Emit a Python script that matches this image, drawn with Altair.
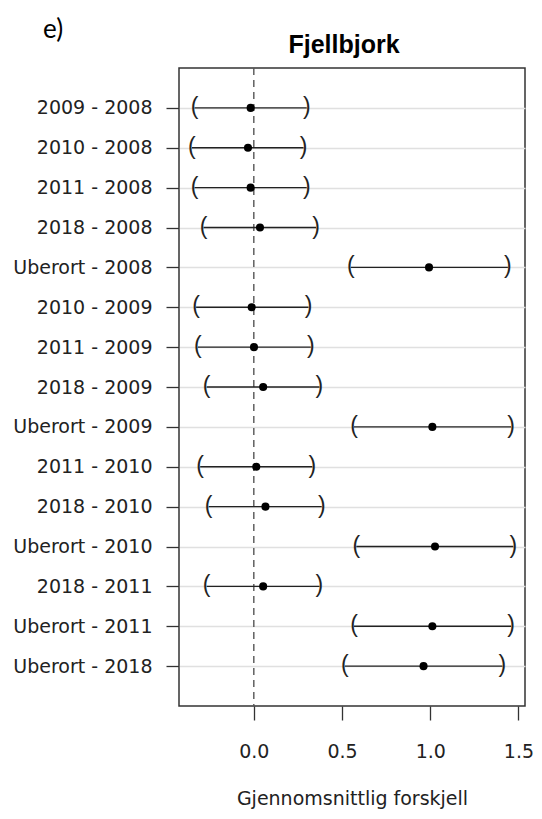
import altair as alt
import pandas as pd

comparisons = [
    "2009 - 2008", "2010 - 2008", "2011 - 2008", "2018 - 2008", "Uberort - 2008",
    "2010 - 2009", "2011 - 2009", "2018 - 2009", "Uberort - 2009",
    "2011 - 2010", "2018 - 2010", "Uberort - 2010",
    "2018 - 2011", "Uberort - 2011", "Uberort - 2018",
]
estimate = [-0.018, -0.033, -0.018, 0.035, 0.993, -0.012, 0.001, 0.053, 1.012,
            0.014, 0.066, 1.027, 0.053, 1.012, 0.962]
lower = [-0.336, -0.351, -0.336, -0.285, 0.550, -0.327, -0.317, -0.267, 0.568,
         -0.304, -0.256, 0.581, -0.267, 0.568, 0.516]
upper = [0.300, 0.282, 0.300, 0.353, 1.440, 0.310, 0.323, 0.372, 1.458,
         0.332, 0.385, 1.471, 0.372, 1.458, 1.409]
x_ticks = [0.0, 0.5, 1.0, 1.5]
reference = [0.0]
panel_text = ["e)"]
title_text = ["Fjellbjork"]

df = pd.DataFrame({"comparison": comparisons, "estimate": estimate,
                   "lower": lower, "upper": upper})
ref_df = pd.DataFrame({"ref": reference})

FONT = "DejaVu Sans"
W, H = 346, 638
x_scale = alt.Scale(domain=[-0.424, 1.537], nice=False, zero=False)
x_axis = alt.Axis(values=x_ticks, format=".1f", tickSize=14, tickColor="#333",
                  tickWidth=1.3, labelPadding=22, labelFontSize=19, labelFont=FONT,
                  labelColor="#222", title="Gjennomsnittlig forskjell",
                  titleFont=FONT, titleFontSize=19, titleFontWeight="normal",
                  titleColor="#222", titlePadding=28, grid=False, domain=False)
y_enc = alt.Y("comparison:N", sort=comparisons,
              scale=alt.Scale(type="point", padding=1.1),
              axis=alt.Axis(title=None, tickSize=13, tickColor="#333", tickWidth=1.3,
                            labelPadding=14, labelFontSize=19, labelFont=FONT,
                            labelColor="#222", grid=True, gridColor="#e0e0e0",
                            gridWidth=1.5, domain=False))

base = alt.Chart(df)

zero_line = alt.Chart(ref_df).mark_rule(color="#555", strokeDash=[7, 5], strokeWidth=1.4).encode(
    x=alt.X("ref:Q", scale=x_scale, axis=x_axis)
)
bars = base.mark_rule(color="#222", strokeWidth=1.4).encode(
    x=alt.X("lower:Q", scale=x_scale, axis=x_axis), x2="upper:Q", y=y_enc
)
left_br = base.mark_text(text="(", fontSize=23, font="Liberation Sans", color="#222",
                         baseline="middle", dy=-1).encode(
    x=alt.X("lower:Q", scale=x_scale), y=y_enc
)
right_br = base.mark_text(text=")", fontSize=23, font="Liberation Sans", color="#222",
                          baseline="middle", dy=-1).encode(
    x=alt.X("upper:Q", scale=x_scale), y=y_enc
)
points = base.mark_circle(color="black", size=65, opacity=1).encode(
    x=alt.X("estimate:Q", scale=x_scale), y=y_enc
)
panel_label = alt.Chart(pd.DataFrame({"t": panel_text})).mark_text(
    font="Lato", fontSize=26, color="black", align="left", baseline="alphabetic"
).encode(text="t:N", x=alt.value(-136), y=alt.value(-30))
title_label = alt.Chart(pd.DataFrame({"t": title_text})).mark_text(
    font="Liberation Sans", fontSize=25, fontWeight="bold", color="black",
    align="center", baseline="alphabetic"
).encode(text="t:N", x=alt.value(165), y=alt.value(-15))

chart = alt.layer(zero_line, bars, left_br, right_br, points, panel_label, title_label).properties(
    width=W, height=H,
    autosize="none",
    padding={"left": 171, "top": 60, "right": 9, "bottom": 105},
).configure_view(stroke="#333", strokeWidth=1.5)

chart.save("out.html", embed_options={"renderer": "svg", "actions": False})
